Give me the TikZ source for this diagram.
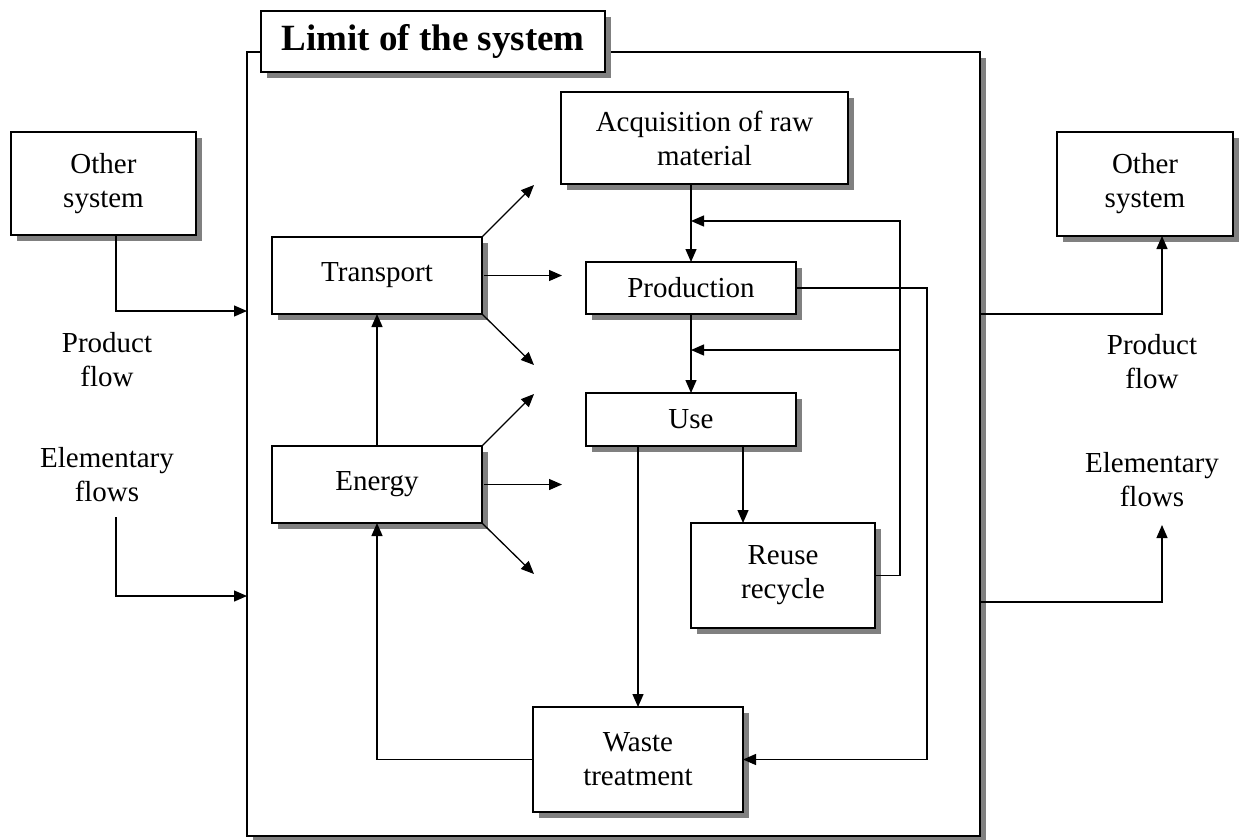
\documentclass[tikz,border=0pt]{standalone}
\usepackage{fontspec}
\setmainfont{Liberation Serif}
\usetikzlibrary{arrows.meta,positioning,shadows}

\begin{document}
\begin{tikzpicture}[x=1pt,y=-1pt,
  box/.style={draw, fill=white, line width=1.5pt, inner sep=0pt, outer sep=0pt,
    align=center, font=\fontsize{29}{34}\selectfont,
    drop shadow={shadow xshift=6pt, shadow yshift=-6pt, fill=black!50, opacity=1}},
  flow/.style={line width=1.3pt, -{Triangle[length=13pt,width=11pt]}},
  lbl/.style={align=center, font=\fontsize{29}{34}\selectfont}]
\useasboundingbox (0,0) rectangle (1247,839);

% limit of the system
\node[box, minimum width=733pt, minimum height=784pt] (sysbox) at (613.5,444) {};
\node[box, minimum width=344pt, minimum height=61pt, font=\fontsize{37}{40}\bfseries] (title) at (433,41.5) {Limit of the system};

% outside
\node[box, minimum width=185pt, minimum height=103pt] (othL) at (103.5,183.5) {Other\\system};
\node[box, minimum width=176pt, minimum height=104pt] (othR) at (1145,184) {Other\\system};
\node[lbl] (prodL) at (107,360) {Product\\flow};
\node[lbl] (elemLbl) at (107,475) {Elementary\\flows};
\node[lbl] (prodR) at (1152,362) {Product\\flow};
\node[lbl] (elemRbl) at (1152,480) {Elementary\\flows};

% inside
\node[box, minimum width=287pt, minimum height=92pt] (acq) at (704.5,138) {Acquisition of raw\\material};
\node[box, minimum width=210pt, minimum height=77pt] (trans) at (377,275.5) {Transport};
\node[box, minimum width=210pt, minimum height=77pt] (energy) at (377,484.5) {Energy};
\node[box, minimum width=210pt, minimum height=52pt] (prod) at (691,288) {Production};
\node[box, minimum width=210pt, minimum height=53pt] (use) at (691,419.5) {Use};
\node[box, minimum width=184pt, minimum height=105pt] (reuse) at (783,575.5) {Reuse\\recycle};
\node[box, minimum width=210pt, minimum height=105pt] (waste) at (638,759.5) {Waste\\treatment};

\coordinate (elemL) at (116,517);
\coordinate (elemR) at (1162,525);
\coordinate (fbk) at (900,0);
\coordinate (wst) at (927,0);

% flows across the limit
\draw[flow] ([xshift=12.5pt]othL.south) |- (sysbox.west |- 0,311);
\draw[flow] (elemL) |- (sysbox.west |- 0,596);
\draw[flow] (sysbox.east |- 0,314) -| ([xshift=17pt]othR.south);
\draw[flow] (sysbox.east |- 0,602) -| (elemR);

% transport and energy outputs
\foreach \b in {trans,energy} {
  \draw[flow] (\b.north east) -- ++(52,-52);
  \draw[flow] ([xshift=2pt]\b.east) -- ++(78,0);
  \draw[flow] (\b.south east) -- ++(52,51);
}
\draw[flow] (energy.north) -- (trans.south);

% life cycle
\draw[flow] (prod.north |- acq.south) -- (prod.north);
\draw[flow] (prod) -- (use);
\draw[flow] ([xshift=52pt]use.south) -- ([xshift=52pt]use.south |- reuse.north);
\draw[flow] (waste.north |- use.south) -- (waste.north);
\draw[flow] (reuse.east) -| (fbk |- 0,221) -- (prod.north |- 0,221);
\draw[flow] (fbk |- 0,350) -- (prod.south |- 0,350);
\draw[flow] (prod.east) -| (wst |- waste.east) -- (waste.east);
\draw[flow] (waste.west) -| (energy.south);
\end{tikzpicture}
\end{document}
